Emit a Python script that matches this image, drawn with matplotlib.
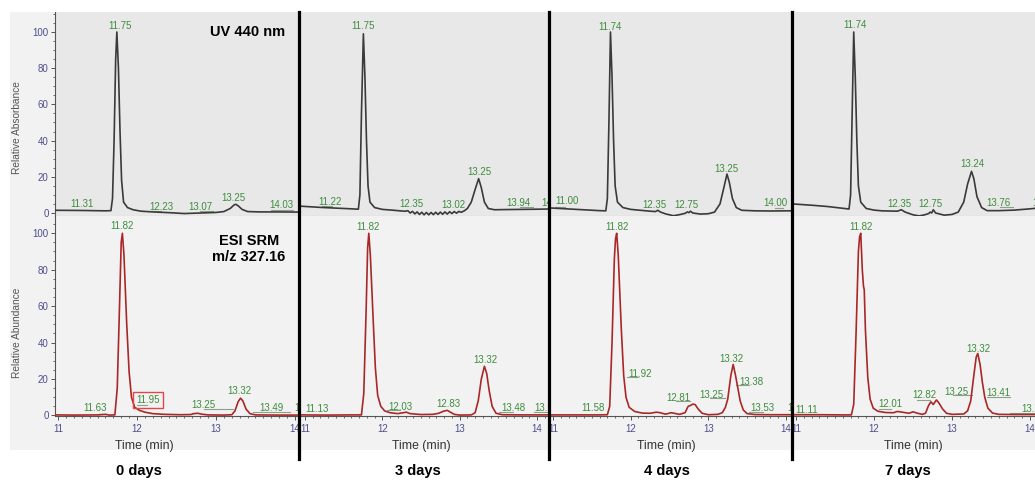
import matplotlib.pyplot as plt
from matplotlib.lines import Line2D
from matplotlib.patches import Rectangle
from matplotlib.ticker import MultipleLocator

plt.rcParams['font.family'] = ['Liberation Sans', 'DejaVu Sans']

W, H = 1035, 480

days = ['0 days', '3 days', '4 days', '7 days']

# UV 440 nm traces (time min, relative absorbance)
uv0 = [(10.96, 1.5), (11.3, 1.4), (11.6, 1.2), (11.67, 1.3), (11.69, 8), (11.71, 40), (11.73, 85),
       (11.745, 100), (11.765, 80), (11.785, 45), (11.805, 18), (11.83, 6), (11.88, 3), (11.95, 1.8),
       (12.05, 1.0), (12.2, 0.6), (12.4, 0.2), (12.6, -0.3), (12.8, 0.0), (13.0, 0.3), (13.1, 0.8),
       (13.18, 2.5), (13.23, 4.5), (13.25, 4.8), (13.28, 4.0), (13.33, 2.0), (13.4, 0.8), (13.55, 0.6),
       (13.8, 0.6), (14.04, 0.5)]
uv3 = [(10.93, 3.8), (11.2, 3.1), (11.4, 2.7), (11.6, 2.3), (11.69, 2.1), (11.71, 10), (11.73, 55),
       (11.755, 99), (11.775, 75), (11.795, 40), (11.815, 15), (11.84, 6), (11.9, 3), (12.0, 2.0),
       (12.15, 1.5), (12.25, 1.1), (12.3, 1.0), (12.33, 1.3), (12.36, 0.0), (12.39, 0.9), (12.42, -0.5),
       (12.45, 0.6), (12.48, -0.8), (12.51, 0.4), (12.54, -1.0), (12.57, 0.3), (12.6, -1.0), (12.63, 0.3),
       (12.66, -0.9), (12.69, 0.4), (12.72, -0.8), (12.75, 0.5), (12.78, -0.7), (12.81, 0.6), (12.84, -0.6),
       (12.87, 0.7), (12.9, -0.3), (12.93, 0.8), (12.96, -0.1), (12.99, 0.9), (13.02, 0.4), (13.06, 1.2),
       (13.1, 2.5), (13.15, 6), (13.2, 13), (13.245, 19), (13.28, 14), (13.32, 6), (13.37, 2.5),
       (13.45, 1.8), (13.6, 1.9), (13.8, 2.0), (14.0, 2.1), (14.15, 2.2)]
uv4 = [(10.96, 2.8), (11.3, 2.0), (11.6, 1.3), (11.68, 1.2), (11.7, 8), (11.72, 50), (11.74, 100),
       (11.76, 75), (11.78, 40), (11.8, 15), (11.83, 6), (11.9, 3), (12.0, 2.0), (12.1, 1.6), (12.25, 1.0),
       (12.32, 0.8), (12.35, 1.5), (12.38, 0.6), (12.45, -0.5), (12.55, -1.5), (12.62, -1.0), (12.7, -0.2),
       (12.73, 0.6), (12.75, 0.2), (12.77, 1.0), (12.8, 0.0), (12.9, -0.6), (13.0, -0.4), (13.08, 0.5),
       (13.15, 5), (13.2, 14), (13.24, 21.5), (13.27, 17), (13.31, 8), (13.36, 3), (13.43, 1.5),
       (13.6, 1.2), (13.8, 1.1), (14.0, 1.2), (14.1, 1.2)]
uv7 = [(10.96, 5.0), (11.2, 4.3), (11.4, 3.6), (11.6, 2.6), (11.68, 2.2), (11.7, 10), (11.72, 55),
       (11.74, 100), (11.76, 75), (11.78, 40), (11.8, 15), (11.83, 6), (11.9, 2.5), (12.0, 1.6),
       (12.1, 1.2), (12.3, 1.0), (12.35, 1.8), (12.4, 0.5), (12.5, -1.0), (12.58, -1.6), (12.65, -1.0),
       (12.7, -0.3), (12.72, 0.5), (12.74, 0.0), (12.76, 1.8), (12.79, 0.0), (12.9, -1.2), (13.0, -0.8),
       (13.08, 0.5), (13.15, 6), (13.2, 16), (13.25, 23), (13.28, 19), (13.32, 9), (13.38, 3),
       (13.45, 1.3), (13.6, 1.3), (13.8, 1.6), (14.0, 2.3), (14.07, 2.6)]

# ESI SRM m/z 327.16 traces (time min, relative abundance)
esi0 = [(10.96, 0.3), (11.2, 0.2), (11.5, 0.3), (11.6, 0.6), (11.65, 0.2), (11.72, 0.3), (11.75, 15),
        (11.78, 62), (11.80, 95), (11.815, 100), (11.835, 88), (11.87, 50), (11.9, 24), (11.93, 10),
        (11.97, 4.5), (12.03, 2.8), (12.1, 1.8), (12.2, 1.0), (12.35, 0.6), (12.55, 0.4), (12.68, 0.5),
        (12.72, 1.0), (12.77, 1.2), (12.82, 0.7), (12.9, 0.3), (13.1, 0.2), (13.2, 0.4), (13.24, 2.5),
        (13.28, 7.5), (13.31, 9.5), (13.34, 8.0), (13.38, 3.5), (13.43, 1.0), (13.5, 0.3), (13.8, 0.2),
        (14.04, 0.2)]
esi3 = [(10.93, 0.3), (11.3, 0.2), (11.6, 0.3), (11.73, 0.3), (11.76, 12), (11.79, 57), (11.81, 92),
        (11.825, 100), (11.845, 88), (11.88, 54), (11.91, 26), (11.94, 11), (11.98, 5), (12.03, 2.5),
        (12.1, 1.5), (12.2, 1.0), (12.27, 1.5), (12.31, 1.8), (12.36, 1.0), (12.5, 0.5), (12.65, 0.6),
        (12.73, 1.2), (12.79, 2.3), (12.84, 2.8), (12.88, 1.8), (12.93, 0.6), (13.0, 0.2), (13.15, 0.3),
        (13.2, 1.5), (13.24, 8), (13.28, 20), (13.32, 27), (13.35, 23), (13.38, 14), (13.42, 5),
        (13.47, 1.2), (13.55, 0.4), (13.8, 0.3), (14.14, 0.3)]
esi4 = [(10.96, 0.3), (11.3, 0.3), (11.6, 0.3), (11.7, 0.4), (11.73, 5), (11.76, 40), (11.79, 86),
        (11.805, 97), (11.82, 100), (11.84, 88), (11.88, 47), (11.91, 22), (11.94, 10), (11.98, 4.5),
        (12.05, 2.2), (12.15, 1.3), (12.25, 1.2), (12.33, 1.8), (12.38, 1.5), (12.45, 0.7), (12.52, 1.5),
        (12.56, 1.2), (12.63, 0.6), (12.7, 1.5), (12.74, 5), (12.77, 5.5), (12.8, 6.2), (12.83, 6.0),
        (12.87, 3.5), (12.92, 1.2), (13.0, 0.4), (13.12, 0.6), (13.18, 1.5), (13.22, 4.5), (13.25, 9),
        (13.29, 22), (13.32, 28), (13.35, 22), (13.38, 15), (13.41, 8), (13.45, 3), (13.5, 1.0),
        (13.6, 0.5), (13.8, 0.4), (14.07, 0.4)]
esi7 = [(10.96, 0.4), (11.3, 0.4), (11.6, 0.3), (11.71, 0.3), (11.74, 6), (11.77, 45), (11.8, 90),
        (11.815, 98), (11.83, 100), (11.85, 80), (11.865, 71), (11.875, 69), (11.89, 47), (11.92, 21),
        (11.95, 9), (11.99, 4), (12.05, 2.3), (12.15, 1.6), (12.25, 1.5), (12.3, 2.2), (12.36, 1.8),
        (12.45, 1.2), (12.5, 2.0), (12.55, 1.3), (12.62, 0.6), (12.66, 1.2), (12.7, 5.5), (12.73, 7.5),
        (12.76, 6.0), (12.8, 8.5), (12.83, 7.0), (12.88, 3.5), (12.93, 1.2), (13.0, 0.6), (13.15, 0.8),
        (13.2, 2.5), (13.24, 8), (13.28, 22), (13.31, 32), (13.33, 34), (13.36, 28), (13.39, 18),
        (13.42, 10), (13.46, 4), (13.52, 1.3), (13.6, 0.6), (13.8, 0.5), (14.07, 0.5)]

uv_traces = [uv0, uv3, uv4, uv7]
esi_traces = [esi0, esi3, esi4, esi7]

# peak labels: (text, time, level)
uv_labels = [
    [('11.75', 11.785, 101.6), ('11.31', 11.31, 3.5), ('12.23', 12.31, 1.7), ('13.07', 12.80, 1.7),
     ('13.25', 13.22, 6.8), ('14.03', 13.83, 2.7)],
    [('11.75', 11.755, 101.5), ('11.22', 11.32, 4.4), ('12.35', 12.37, 3.5), ('13.02', 12.92, 2.6),
     ('13.25', 13.26, 21.0), ('13.94', 13.76, 3.9), ('14.08', 14.21, 3.9)],
    [('11.74', 11.74, 101.0), ('11.00', 11.18, 5.0), ('12.35', 12.31, 2.6), ('12.75', 12.72, 2.6),
     ('13.25', 13.23, 22.8), ('14.00', 13.86, 3.9)],
    [('11.74', 11.76, 102.0), ('12.35', 12.32, 3.5), ('12.75', 12.72, 3.5), ('13.24', 13.26, 25.6),
     ('13.76', 13.60, 3.9), ('14.02', 14.19, 3.9)],
]
esi_labels = [
    [('11.82', 11.81, 102.6), ('11.63', 11.47, 2.2), ('11.95', 12.14, 6.8), ('13.25', 12.84, 4.0),
     ('13.32', 13.30, 11.8), ('13.49', 13.70, 2.6), ('14.01', 14.15, 2.2)],
    [('11.82', 11.82, 102.0), ('11.13', 11.15, 1.8), ('12.03', 12.23, 3.1), ('12.83', 12.85, 4.4),
     ('13.32', 13.33, 28.9), ('13.48', 13.69, 2.2), ('13.99', 14.12, 2.2)],
    [('11.82', 11.82, 101.7), ('11.58', 11.52, 2.6), ('11.92', 12.12, 21.0), ('12.81', 12.61, 7.7),
     ('13.25', 13.04, 9.5), ('13.32', 13.30, 29.5), ('13.38', 13.56, 16.6), ('13.53', 13.70, 2.2),
     ('14.04', 14.17, 2.2)],
    [('11.82', 11.83, 102.0), ('11.11', 11.14, 1.5), ('12.01', 12.21, 4.4), ('12.82', 12.64, 9.5),
     ('13.25', 13.06, 11.0), ('13.32', 13.34, 34.8), ('13.41', 13.59, 10.5), ('13.76', 14.05, 2.0)],
]
boxed_label = (0, '11.95')

# baseline markers under labels: (t0, t1, level)
uv_marks = [
    [(12.19, 12.30, 1.1), (12.80, 12.96, 1.1), (13.70, 13.97, 1.5)],
    [(11.22, 11.35, 3.9), (13.78, 13.95, 3.5)],
    [(11.03, 11.15, 3.5), (13.86, 13.96, 2.6)],
    [(13.62, 13.78, 3.5)],
]
esi_marks = [
    [(11.52, 11.60, 1.0), (12.00, 12.13, 5.5), (12.85, 13.22, 3.6), (13.47, 13.94, 2.1)],
    [(12.06, 12.23, 3.0), (13.51, 13.69, 2.1), (13.96, 14.14, 2.1)],
    [(11.95, 12.10, 21.0), (12.59, 12.76, 8.0), (13.02, 13.21, 9.5), (13.36, 13.53, 16.5), (13.52, 13.70, 1.9)],
    [(12.06, 12.22, 3.4), (12.55, 12.72, 8.5), (13.01, 13.25, 11.2), (13.45, 13.74, 10.3), (13.74, 14.06, 1.4)],
]

# pixel layout of the four stitched screenshots: axes left, right, x=11 px, x=14 px
cols = [(55, 298, 58, 295), (300, 548, 305, 537), (550, 791, 553, 786), (793, 1035, 796, 1030)]
bg_left = [10, 300, 550, 793]
xlabel_px = [144, 421, 666, 913]
day_px = [139, 418, 667, 908]
dividers = [299, 549, 792]

green = '#3d8c3d'
tickc = '#4d4d8f'
markc = '#8aa08a'


def fx(px):
    return px / W


def fy(py):
    return 1 - py / H


fig = plt.figure(figsize=(W / 100, H / 100), dpi=100)
fig.patch.set_facecolor('white')

for i in range(4):
    left, right, x11, x14 = cols[i]
    fig.patches.append(Rectangle((fx(bg_left[i]), fy(450)), (right - bg_left[i]) / W, (450 - 12) / H,
                                 transform=fig.transFigure, facecolor='#f2f2f2', edgecolor='none', zorder=-5))
    scale = (x14 - x11) / 3
    xmin = 11 - (x11 - left) / scale
    xmax = 14 + (right - x14) / scale

    ax_t = fig.add_axes([fx(left), fy(216), (right - left) / W, (216 - 12) / H])
    ax_b = fig.add_axes([fx(left), fy(416), (right - left) / W, (416 - 216) / H])
    ax_t.set_facecolor('#e8e8e8')
    ax_b.set_facecolor('#f2f2f2')
    ax_t.set_ylim(-(216 - 213) / 1.81, 100 + (32 - 12) / 1.81)
    ax_b.set_ylim(-0.3, 100 + (233.3 - 216) / 1.824)

    for ax in (ax_t, ax_b):
        ax.set_xlim(xmin, xmax)
        ax.spines['top'].set_visible(False)
        ax.spines['right'].set_visible(False)
        if i == 0:
            ax.spines['left'].set_color('#555555')
            ax.set_yticks([0, 20, 40, 60, 80, 100])
            ax.yaxis.set_minor_locator(MultipleLocator(5))
            ax.tick_params(axis='y', which='major', length=3, width=0.7, color='#555555',
                           labelsize=7, labelcolor=tickc, pad=1.5)
            ax.tick_params(axis='y', which='minor', length=1.5, width=0.6, color='#555555')
        else:
            ax.spines['left'].set_visible(False)
            ax.set_yticks([])

    ax_t.spines['bottom'].set_color('#b4b4b4')
    ax_t.set_xticks([])
    ax_b.spines['bottom'].set_color('#555555')
    ax_b.set_xticks([11, 12, 13, 14])
    ax_b.xaxis.set_minor_locator(MultipleLocator(0.1))
    ax_b.tick_params(axis='x', which='major', length=3, width=0.7, color='#555555',
                     labelsize=7, labelcolor=tickc, pad=3)
    ax_b.tick_params(axis='x', which='minor', length=1.5, width=0.6, color='#555555')

    ut, uy = zip(*uv_traces[i])
    ax_t.plot(ut, uy, color='#3a3a3a', lw=1.2, zorder=3)
    et, ey = zip(*esi_traces[i])
    ax_b.plot(et, ey, color='#a82828', lw=1.2, zorder=3)

    for ax, labels, marks in ((ax_t, uv_labels[i], uv_marks[i]), (ax_b, esi_labels[i], esi_marks[i])):
        for t0, t1, lv in marks:
            ax.plot([t0, t1], [lv, lv], color=markc, lw=0.8, zorder=2)
        for txt, t, lv in labels:
            kw = {}
            if ax is ax_b and (i, txt) == boxed_label:
                kw['bbox'] = dict(boxstyle='square,pad=0.35', facecolor='none', edgecolor='#e04848', lw=1.0)
            ax.text(t, lv, txt, color=green, fontsize=7, ha='center', va='baseline',
                    clip_on=True, zorder=4, **kw)

    fig.text(fx(xlabel_px[i]), fy(446), 'Time (min)', fontsize=8.8, color='#333333',
             ha='center', va='center')
    fig.text(fx(day_px[i]), fy(471.5), days[i], fontsize=10.5, fontweight='bold',
             ha='center', va='center')

    if i == 0:
        fig.text(fx(17), fy(128), 'Relative Absorbance', rotation=90, fontsize=7.3,
                 color='#555555', ha='center', va='center')
        fig.text(fx(17), fy(333), 'Relative Abundance', rotation=90, fontsize=7.3,
                 color='#555555', ha='center', va='center')
        fig.text(fx(248), fy(32), 'UV 440 nm', fontsize=10.5, fontweight='bold',
                 ha='center', va='center')
        fig.text(fx(249), fy(249), 'ESI SRM\nm/z 327.16', fontsize=10.5, fontweight='bold',
                 ha='center', va='center', linespacing=1.15)

for d in dividers:
    fig.add_artist(Line2D([fx(d), fx(d)], [fy(12), fy(459)], color='black', lw=2.3,
                          transform=fig.transFigure, zorder=10))

fig.savefig('out.png', dpi=100, facecolor='white')
